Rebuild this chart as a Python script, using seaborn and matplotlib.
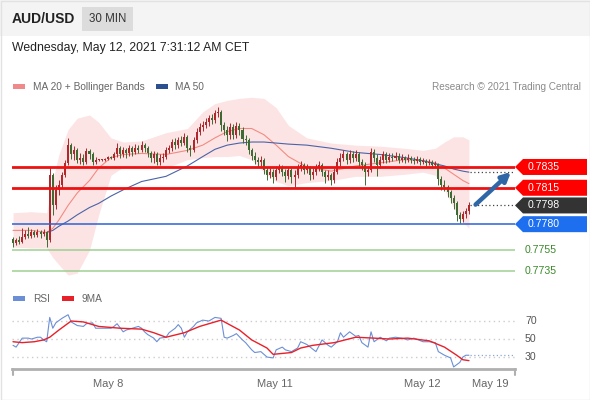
import numpy as np
import pandas as pd
import seaborn as sns
import matplotlib.pyplot as plt
from matplotlib.patches import Polygon, Rectangle

# AUD/USD 30 min bars, prices in pips (x 1e-4)
first_open = 7766
closes = [7762, 7765, 7763, 7768, 7771, 7769, 7772, 7770, 7772, 7771,
          7772, 7765, 7827, 7798, 7813, 7818, 7827, 7839, 7856, 7847,
          7851, 7842, 7844, 7840, 7850, 7847, 7840, 7842, 7842, 7842,
          7843, 7845, 7844, 7847, 7853, 7847, 7851, 7848, 7853, 7849,
          7853, 7851, 7856, 7853, 7848, 7844, 7847, 7840, 7844, 7845,
          7851, 7853, 7859, 7856, 7861, 7858, 7864, 7853, 7851, 7861,
          7869, 7873, 7875, 7878, 7882, 7880, 7887, 7888, 7875, 7871,
          7866, 7873, 7866, 7874, 7871, 7862, 7861, 7851, 7846, 7842,
          7840, 7842, 7832, 7827, 7830, 7825, 7832, 7834, 7830, 7826,
          7832, 7825, 7827, 7834, 7837, 7832, 7834, 7827, 7830, 7834,
          7837, 7830, 7825, 7827, 7822, 7830, 7840, 7844, 7847, 7842,
          7847, 7844, 7847, 7840, 7837, 7830, 7832, 7849, 7844, 7837,
          7842, 7847, 7842, 7845, 7844, 7846, 7842, 7844, 7842, 7844,
          7842, 7841, 7843, 7840, 7841, 7839, 7840, 7837, 7838, 7823,
          7818, 7816, 7811, 7805, 7800, 7789, 7785, 7790, 7793, 7798]
highs = [7768, 7767, 7769, 7776, 7774, 7777, 7775, 7774, 7775, 7774,
         7775, 7773, 7835, 7829, 7818, 7822, 7830, 7842, 7863, 7858,
         7855, 7853, 7848, 7847, 7853, 7852, 7849, 7845, 7843, 7843,
         7844, 7846, 7846, 7849, 7858, 7855, 7854, 7853, 7856, 7855,
         7857, 7856, 7860, 7858, 7855, 7850, 7850, 7849, 7847, 7848,
         7854, 7856, 7862, 7863, 7864, 7865, 7868, 7866, 7856, 7864,
         7872, 7877, 7879, 7882, 7885, 7886, 7890, 7893, 7890, 7878,
         7874, 7877, 7876, 7878, 7877, 7873, 7866, 7863, 7853, 7849,
         7845, 7846, 7844, 7835, 7834, 7833, 7836, 7838, 7837, 7833,
         7835, 7834, 7832, 7838, 7841, 7839, 7838, 7836, 7834, 7838,
         7841, 7839, 7832, 7832, 7829, 7834, 7844, 7848, 7851, 7849,
         7851, 7850, 7851, 7849, 7843, 7840, 7836, 7853, 7852, 7847,
         7846, 7850, 7849, 7848, 7848, 7849, 7848, 7847, 7846, 7847,
         7846, 7845, 7846, 7845, 7844, 7843, 7843, 7842, 7841, 7839,
         7826, 7822, 7818, 7813, 7808, 7802, 7792, 7793, 7796, 7801]
lows = [7758, 7760, 7761, 7762, 7766, 7767, 7767, 7768, 7768, 7767,
        7769, 7758, 7763, 7789, 7795, 7808, 7815, 7825, 7837, 7843,
        7842, 7839, 7838, 7837, 7838, 7843, 7837, 7838, 7841, 7841,
        7841, 7842, 7843, 7842, 7845, 7844, 7845, 7844, 7846, 7846,
        7847, 7848, 7849, 7849, 7845, 7840, 7839, 7837, 7837, 7840,
        7843, 7848, 7850, 7852, 7853, 7855, 7856, 7849, 7846, 7849,
        7858, 7866, 7870, 7872, 7874, 7876, 7877, 7883, 7870, 7866,
        7860, 7862, 7862, 7863, 7866, 7858, 7856, 7847, 7842, 7838,
        7835, 7836, 7828, 7822, 7824, 7820, 7822, 7829, 7826, 7821,
        7823, 7820, 7816, 7824, 7831, 7828, 7829, 7822, 7823, 7827,
        7831, 7826, 7820, 7822, 7818, 7820, 7828, 7836, 7841, 7838,
        7839, 7840, 7841, 7836, 7832, 7818, 7826, 7830, 7840, 7826,
        7834, 7839, 7839, 7840, 7841, 7842, 7839, 7840, 7839, 7840,
        7839, 7838, 7839, 7837, 7838, 7836, 7837, 7834, 7835, 7818,
        7813, 7812, 7806, 7800, 7795, 7783, 7781, 7782, 7786, 7790]

# indicators read at selected bars
ind_bars = [0, 6, 11, 13, 15, 18, 21, 25, 28, 32, 36, 42, 50, 57, 62, 66, 70,
            74, 78, 82, 86, 90, 96, 104, 112, 120, 128, 134, 138, 141, 144, 147, 149]
bb_upper = [7791, 7792, 7791, 7822, 7847, 7871, 7882, 7885, 7878, 7863, 7859,
            7860, 7868, 7872, 7888, 7896, 7899, 7901, 7902, 7901, 7892, 7875,
            7863, 7858, 7856, 7855, 7853, 7851, 7853, 7859, 7864, 7864, 7861]
bb_lower = [7758, 7757, 7757, 7748, 7741, 7731, 7733, 7755, 7789, 7827, 7835,
            7836, 7834, 7842, 7844, 7845, 7845, 7846, 7842, 7830, 7821, 7817,
            7820, 7822, 7826, 7826, 7828, 7830, 7827, 7813, 7796, 7782, 7776]
ma20 = [7774, 7774, 7772, 7776, 7784, 7798, 7810, 7822, 7834, 7844, 7847,
        7848, 7847, 7851, 7856, 7863, 7869, 7872, 7872, 7866, 7856, 7845,
        7835, 7831, 7836, 7839, 7842, 7841, 7839, 7834, 7828, 7822, 7819]
ma50_bars = ind_bars[2:]
ma50 = [7772, 7774, 7778, 7783, 7789, 7796, 7800, 7807, 7813, 7821, 7826,
        7836, 7845, 7852, 7856, 7858, 7859, 7859, 7858, 7857, 7856, 7853,
        7849, 7847, 7844, 7841, 7838, 7836, 7833, 7831, 7830]

rsi_bars = [0, 1, 3, 5, 6, 8, 9, 10, 11, 12, 13, 14, 16, 18, 19, 21, 23, 24, 26, 27,
            29, 32, 33, 34, 36, 37, 39, 41, 42, 43, 44, 46, 47, 48, 50, 51, 53, 54, 55, 56,
            57, 59, 60, 62, 64, 66, 68, 69, 70, 72, 73, 75, 76, 78, 79, 81, 83, 85, 86, 88,
            89, 91, 93, 94, 96, 99, 101, 103, 104, 106, 107, 108, 110, 112, 113, 114, 116, 117, 118, 120,
            122, 123, 125, 127, 129, 131, 134, 136, 138, 139, 141, 143, 144, 146, 147, 148, 149]
rsi = [43, 41, 51, 51, 50, 52, 52, 49, 47, 74, 62, 68, 73, 77, 69, 65, 64, 67, 68, 62,
       62, 62, 64, 67, 58, 60, 62, 64, 62, 58, 55, 51, 47, 51, 52, 57, 62, 66, 62, 52,
       58, 64, 68, 71, 70, 74, 73, 52, 51, 54, 56, 49, 46, 38, 35, 36, 30, 29, 38, 41,
       38, 36, 40, 47, 44, 36, 49, 43, 41, 47, 57, 52, 58, 53, 54, 46, 41, 58, 47, 52,
       48, 51, 52, 51, 49, 51, 47, 47, 46, 36, 32, 29, 19, 24, 30, 32, 32]
ma9_bars = [0, 3, 7, 10, 12, 15, 19, 23, 28, 35, 42, 46, 50, 56, 61, 65, 68, 74, 78, 83,
            85, 88, 91, 94, 98, 105, 112, 118, 123, 129, 136, 141, 145, 147, 149]
rsi_ma9 = [47, 46, 47, 49, 52, 60, 70, 69, 64, 62, 61, 57, 52, 57, 64, 68, 71, 60, 49, 40,
           33, 34, 35, 40, 43, 46, 52, 51, 50, 51, 48, 41, 32, 27, 26]

levels = [7835, 7815, 7780, 7755, 7735]
level_colors = ["#ee1111", "#ee1111", "#2a62d8", "#9fcf92", "#9fcf92"]
last_price = 7798

date_ticks = [31.0, 85.6, 133.7, 155.9]
date_labels = ["May 8", "May 11", "May 12", "May 19"]

W, H = 590, 400
def frac(x0, y0, x1, y1):
    return [x0 / W, 1 - y1 / H, (x1 - x0) / W, (y1 - y0) / H]

sns.set_style("white")
plt.rcParams['font.family'] = ['Liberation Sans', 'DejaVu Sans']

fig = plt.figure(figsize=(5.9, 4.0), dpi=100)

# page decorations in pixel coords
bg = fig.add_axes([0, 0, 1, 1], zorder=-1)
bg.set_xlim(0, W)
bg.set_ylim(H, 0)
bg.axis('off')
bg.add_patch(Rectangle((0, 0), W, 36, color="#f4f4f4", lw=0))
bg.add_patch(Rectangle((0.5, 0.5), W - 1, H - 1, fill=False, ec="#e2e2e2", lw=1))
bg.text(12, 19, "AUD/USD", fontsize=10, fontweight='bold', color="#222222", va='center')
bg.add_patch(Rectangle((82, 7), 51, 24, color="#dcdcdc", lw=0))
bg.text(107.5, 19, "30 MIN", fontsize=8.3, color="#333333", ha='center', va='center')
bg.text(12, 48, "Wednesday, May 12, 2021 7:31:12 AM CET", fontsize=8.8, color="#222222", va='center')

bg.add_patch(Rectangle((13, 84), 12, 5, color="#f08a8a", lw=0))
bg.text(33, 86.5, "MA 20 + Bollinger Bands", fontsize=7.3, color="#666666", va='center')
bg.add_patch(Rectangle((156, 84), 12, 5, color="#2b4f8f", lw=0))
bg.text(175, 86.5, "MA 50", fontsize=7.3, color="#666666", va='center')
bg.text(581, 86.5, "Research \u00a9 2021 Trading Central", fontsize=7.2, color="#8a8a8a",
        va='center', ha='right')

bg.add_patch(Rectangle((13, 296), 12, 5, color="#6b8fd6", lw=0))
bg.text(33, 298.5, "RSI", fontsize=7.3, color="#666666", va='center')
bg.add_patch(Rectangle((62, 296), 12, 5, color="#e8202a", lw=0))
bg.text(82, 298.5, "9MA", fontsize=7.3, color="#666666", va='center')
bg.plot([12.5, 12.5], [369, 375], color="#b0b0b0", lw=1.5)
bg.plot([514.5, 514.5], [369, 375], color="#b0b0b0", lw=1.5)

# price panel
ax = fig.add_axes(frac(12, 92, 515, 285))
ax.set_facecolor('none')
x = np.arange(len(closes))
c = np.array(closes) / 1e4
o = np.array([first_open] + closes[:-1]) / 1e4
hi = np.array(highs) / 1e4
lo = np.array(lows) / 1e4
up = c >= o

ax.fill_between(ind_bars, np.array(bb_lower) / 1e4, np.array(bb_upper) / 1e4,
                color="#fde4e4", lw=0, zorder=0)
sns.lineplot(x=ind_bars, y=np.array(ma20) / 1e4, ax=ax, color="#f28b82", lw=0.8, zorder=1)
sns.lineplot(x=ma50_bars, y=np.array(ma50) / 1e4, ax=ax, color="#4a64a8", lw=0.8, zorder=1)

colors = np.where(up, "#b0282c", "#3d6b33")
ax.vlines(x, lo, hi, colors=colors, lw=0.7, zorder=2)
body = np.maximum(np.abs(c - o), 0.00003)
ax.bar(x, body, bottom=np.minimum(o, c), width=0.66, color=colors, lw=0, zorder=2)

for lv, col in zip(levels, level_colors):
    lw = 2 if col == "#ee1111" else 1.1
    ax.axhline(lv / 1e4, color=col, lw=lw, zorder=3)

ax.plot([149.5, 164.05], [last_price / 1e4] * 2, ls=(0, (1, 2)), color="#444444", lw=0.9)
ax.plot([149.5, 164.05], [ma50[-1] / 1e4] * 2, ls=(0, (1, 2)), color="#444444", lw=0.9)
ax.annotate("", xy=(163.4, 0.7832), xytext=(150.5, 0.7797), annotation_clip=False,
            arrowprops=dict(arrowstyle='-|>', color="#2f66a6", lw=3.2, mutation_scale=13))

ax.set_xlim(-0.33, 164.05)
ax.set_ylim(0.77215, 0.79071)
ax.axis('off')

# right-side tags
tr = ax.get_yaxis_transform()
half = 8 / 1.04 / 1e4
tip = 8 / 503
right = 72 / 503
tags = [(7835, "#ff0000"), (7815, "#ff0000"), (last_price, "#333333"), (7780, "#1e6ff0")]
for p, col in tags:
    y0 = p / 1e4
    pts = [(1.0, y0), (1 + tip, y0 + half), (1 + right, y0 + half),
           (1 + right, y0 - half), (1 + tip, y0 - half)]
    ax.add_patch(Polygon(pts, closed=True, color=col, lw=0, transform=tr, clip_on=False))
    ax.text(1 + 13 / 503, y0, f"0.{p}", transform=tr, color="white", fontsize=7.6,
            va='center', ha='left')
for p in [7755, 7735]:
    ax.text(1 + 10 / 503, p / 1e4, f"0.{p}", transform=tr, color="#3a8a2a", fontsize=7.6,
            va='center', ha='left')

# RSI panel
rax = fig.add_axes(frac(12, 305, 515, 369))
rax.set_facecolor('none')
for lv in [70, 50, 30]:
    rax.axhline(lv, color="#cccccc", lw=1, ls=(0, (1, 2.5)))
    rax.text(1 + 10 / 503, lv, str(lv), transform=rax.get_yaxis_transform(),
             color="#555555", fontsize=7.6, va='center', ha='left')
sns.lineplot(x=rsi_bars, y=rsi, ax=rax, color="#6b8fd6", lw=0.8)
sns.lineplot(x=ma9_bars, y=rsi_ma9, ax=rax, color="#e8202a", lw=1)
rax.plot([149.5, 164.05], [rsi[-1]] * 2, ls=(0, (1, 2)), color="#8fa6d8", lw=0.9)
rax.set_xlim(-0.33, 164.05)
rax.set_ylim(16.7, 87.8)
for s in ['left', 'right', 'top']:
    rax.spines[s].set_visible(False)
rax.spines['bottom'].set_color("#b0b0b0")
rax.spines['bottom'].set_linewidth(2)
rax.set_yticks([])
rax.set_xticks(date_ticks, date_labels)
rax.tick_params(axis='x', length=0, pad=7, labelsize=8, labelcolor="#666666")
rax.set_xlabel("")
rax.set_ylabel("")

fig.savefig("out.png", dpi=100)
